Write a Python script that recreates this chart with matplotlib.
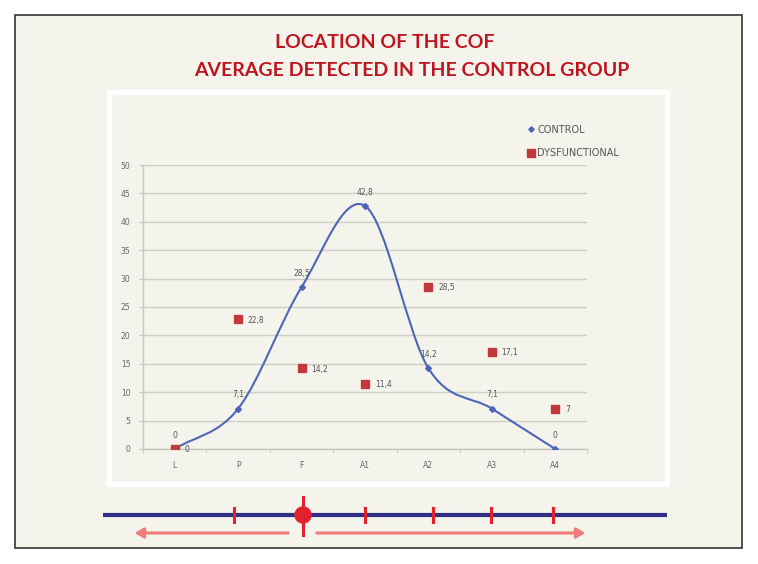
import numpy as np
import matplotlib.pyplot as plt
from matplotlib.path import Path
from matplotlib.patches import PathPatch, Rectangle, Circle, FancyArrowPatch
from matplotlib.lines import Line2D
from matplotlib.transforms import Affine2D

W, H = 758, 564

categories = ["L", "P", "F", "A1", "A2", "A3", "A4"]
control = [0, 7.1, 28.5, 42.8, 14.2, 7.1, 0]
dysfunctional = [0, 22.8, 14.2, 11.4, 28.5, 17.1, 7]
control_labels = ["0", "7,1", "28,5", "42,8", "14,2", "7,1", "0"]
dys_labels = ["0", "22,8", "14,2", "11,4", "28,5", "17,1", "7"]
title_lines = ["LOCATION OF THE COF", "AVERAGE DETECTED IN THE CONTROL GROUP"]
bar_ticks = [234, 365, 433, 491, 553]

CREAM = "#f4f3ec"
BLUE = "#4d66b8"
RED = "#c0393d"
BRIGHT_RED = "#e3202b"
SALMON = "#f07d7a"
NAVY = "#2f2d84"


def smooth_path(xs, ys):
    # Excel-like smoothed line: cubic bezier segments (catmull-rom tangents)
    xs = np.asarray(xs, dtype=float)
    ys = np.asarray(ys, dtype=float)
    n = len(xs)
    tx = np.zeros(n)
    ty = np.zeros(n)
    for i in range(n):
        a = max(i - 1, 0)
        b = min(i + 1, n - 1)
        tx[i] = (xs[b] - xs[a]) / (b - a) if b != a else 0
        ty[i] = (ys[b] - ys[a]) / (b - a) if b != a else 0
    verts = [(xs[0], ys[0])]
    codes = [Path.MOVETO]
    for i in range(n - 1):
        verts += [
            (xs[i] + tx[i] / 3, ys[i] + ty[i] / 3),
            (xs[i + 1] - tx[i + 1] / 3, ys[i + 1] - ty[i + 1] / 3),
            (xs[i + 1], ys[i + 1]),
        ]
        codes += [Path.CURVE4] * 3
    return Path(verts, codes)


fig = plt.figure(figsize=(W / 100, H / 100), dpi=100, facecolor="white")

# pixel coordinates measured from the top-left corner
T = Affine2D().scale(1 / W, -1 / H).translate(0, 1) + fig.transFigure

fig.add_artist(Rectangle((15, 15), 727, 533, transform=T, facecolor=CREAM,
                         edgecolor="#333333", linewidth=1.2, zorder=0))
fig.add_artist(Rectangle((109, 92), 558, 392, transform=T, facecolor=CREAM,
                         edgecolor="white", linewidth=3.8, zorder=0))

title_x = [385, 412]
title_y = [42, 71]
for line, tx, ty in zip(title_lines, title_x, title_y):
    fig.text(tx / W, 1 - ty / H, line, ha="center", va="center",
             fontsize=14, fontweight="bold", color="#c0141e", family="Lato")

ax = fig.add_axes([143 / W, 1 - 449 / H, 444 / W, 284 / H])
ax.set_facecolor("none")
x = np.arange(len(categories))

ax.add_patch(PathPatch(smooth_path(x, control), facecolor="none",
                       edgecolor=BLUE, linewidth=1.5, zorder=3))
ax.plot(x, control, linestyle="none", marker="D", markersize=3,
        color=BLUE, zorder=4, label="CONTROL")
ax.plot(x, dysfunctional, linestyle="none", marker="s", markersize=6,
        color=RED, zorder=4, label="DYSFUNCTIONAL")

for xi, yi, lab in zip(x, control, control_labels):
    ax.annotate(lab, (xi, yi), xytext=(0, 10), textcoords="offset points",
                ha="center", va="center", fontsize=5.5, color="#555555")
for xi, yi, lab in zip(x, dysfunctional, dys_labels):
    ax.annotate(lab, (xi, yi), xytext=(7, -0.5), textcoords="offset points",
                ha="left", va="center", fontsize=5.5, color="#555555")

ax.set_xlim(-0.5, len(categories) - 0.5)
ax.set_ylim(0, 50)
ax.set_yticks(np.arange(0, 51, 5))
ax.set_xticks(x)
ax.set_xticklabels(categories)
ax.set_xticks(np.arange(-0.5, len(categories), 1), minor=True)
ax.grid(axis="y", color="#cfcdc4", linewidth=1)
ax.set_axisbelow(True)
for s in ["top", "right"]:
    ax.spines[s].set_visible(False)
for s in ["left", "bottom"]:
    ax.spines[s].set_color("#c8c6bd")
    ax.spines[s].set_linewidth(1)
ax.tick_params(axis="both", which="major", labelsize=5.5, labelcolor="#666666",
               colors="#c8c6bd")
ax.tick_params(axis="x", which="major", length=0, pad=9)
ax.tick_params(axis="x", which="minor", length=3, color="#c8c6bd")
ax.tick_params(axis="y", which="major", length=3, pad=6)

ax.legend(loc="upper left", bbox_to_anchor=(519 / W, 1 - 116 / H),
          bbox_transform=fig.transFigure, frameon=False, fontsize=7,
          handlelength=0.6, handletextpad=0.4, labelspacing=1.4,
          labelcolor="#555555", markerscale=0.9)

# position bar under the chart
fig.add_artist(Line2D([103, 667], [515, 515], transform=T, color=NAVY,
                      linewidth=3, solid_capstyle="butt", zorder=2))
for bx in bar_ticks:
    fig.add_artist(Line2D([bx, bx], [508, 522], transform=T, color=BRIGHT_RED,
                          linewidth=2.2, zorder=3))
fig.add_artist(Line2D([303, 303], [497, 535], transform=T, color=BRIGHT_RED,
                      linewidth=2.2, zorder=3))
fig.add_artist(Circle((303, 515), 8, transform=T, color=BRIGHT_RED, zorder=4))
fig.add_artist(FancyArrowPatch((291, 533), (132, 533), transform=T,
                               arrowstyle="-|>,head_length=5,head_width=3",
                               color=SALMON, linewidth=2.2, zorder=3))
fig.add_artist(FancyArrowPatch((314, 533), (588, 533), transform=T,
                               arrowstyle="-|>,head_length=5,head_width=3",
                               color=SALMON, linewidth=2.2, zorder=3))

fig.savefig("out.png", dpi=100, facecolor="white")
